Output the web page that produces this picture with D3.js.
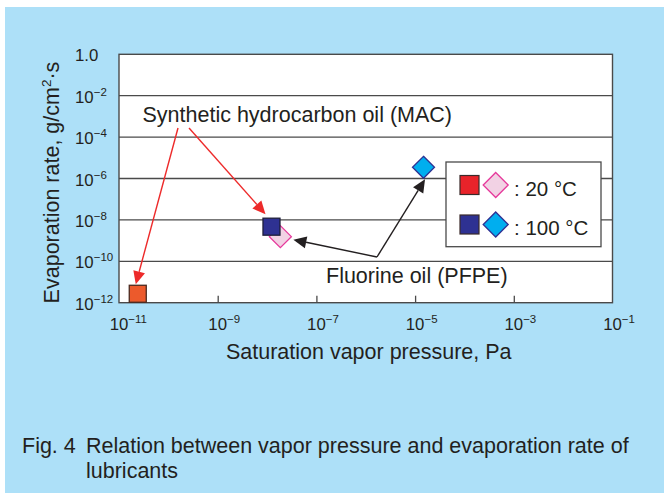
<!DOCTYPE html>
<html>
<head>
<meta charset="utf-8">
<script src="https://cdn.jsdelivr.net/npm/d3@7/dist/d3.min.js"></script>
<style>
  html, body { margin: 0; padding: 0; background: #fff; }
  svg { display: block; }
  text { font-family: "Liberation Sans", Arial, Helvetica, sans-serif; fill: #231f20; }
</style>
</head>
<body>
<svg id="chart" width="664" height="493"></svg>
<script>
// Lubricant evaporation data: saturation vapor pressure (Pa) vs evaporation rate (g/cm²·s)
const temperatures = ["20 °C", "100 °C"];
const macPressure = [2.4e-11, 1.23e-8];   // synthetic hydrocarbon oil (MAC)
const macRate     = [2.7e-12, 4.7e-9];
const pfpePressure = [1.86e-8, 1.48e-5];  // fluorine oil (PFPE)
const pfpeRate     = [1.55e-9, 3.47e-6];
const xTickExponents = [-11, -9, -7, -5, -3, -1];
const yTickExponents = [0, -2, -4, -6, -8, -10, -12];
const macLabel = "Synthetic hydrocarbon oil (MAC)";
const pfpeLabel = "Fluorine oil (PFPE)";
const xTitle = "Saturation vapor pressure, Pa";
const captionLines = ["Relation between vapor pressure and evaporation rate of", "lubricants"];

const svg = d3.select("#chart");
const ink = "#231f20";
const gridColor = "#4a4a4a";
const bigFont = 21.5;

// background panel
svg.append("rect").attr("x", 5).attr("y", 7).attr("width", 659).attr("height", 486).attr("fill", "#ade0f8");

const x = d3.scaleLog().domain([1e-11, 1e-1]).range([119, 612.5]);
const y = d3.scaleLog().domain([1e-12, 1]).range([302.7, 54.3]);

// plot area
svg.append("rect")
  .attr("x", x.range()[0]).attr("y", y.range()[1])
  .attr("width", x.range()[1] - x.range()[0]).attr("height", y.range()[0] - y.range()[1])
  .attr("fill", "#fff");

// horizontal grid lines
svg.append("g").selectAll("line")
  .data(yTickExponents.filter(e => e !== 0 && e !== -12))
  .join("line")
  .attr("x1", x.range()[0]).attr("x2", x.range()[1])
  .attr("y1", e => y(Math.pow(10, e))).attr("y2", e => y(Math.pow(10, e)))
  .attr("stroke", gridColor).attr("stroke-width", 1.3);

// x axis ticks (inward)
const xAxis = d3.axisTop(x)
  .tickValues(xTickExponents.slice(1, -1).map(e => Math.pow(10, e)))
  .tickSize(7).tickFormat("");
const xg = svg.append("g").attr("transform", `translate(0,${y.range()[0]})`).call(xAxis);
xg.select(".domain").remove();
xg.selectAll("line").attr("stroke", gridColor).attr("stroke-width", 1.3);

// plot frame
svg.append("rect")
  .attr("x", x.range()[0]).attr("y", y.range()[1])
  .attr("width", x.range()[1] - x.range()[0]).attr("height", y.range()[0] - y.range()[1])
  .attr("fill", "none").attr("stroke", gridColor).attr("stroke-width", 1.4);

// x tick labels: "10" centred on the tick, exponent raised to the right
const tickFont = 16.8;
const supFont = 11.5;
const tenHalf = tickFont * 1.112 / 2;
xTickExponents.forEach(e => {
  const t = svg.append("text")
    .attr("x", x(Math.pow(10, e)) - tenHalf).attr("y", 330)
    .attr("font-size", tickFont);
  t.append("tspan").text("10");
  t.append("tspan").attr("font-size", supFont).attr("dy", -7).text("\u2212" + Math.abs(e));
});

// y tick labels
yTickExponents.forEach(e => {
  const t = svg.append("text")
    .attr("x", 75).attr("y", y(Math.pow(10, e)) + 7)
    .attr("font-size", tickFont);
  if (e === 0) {
    t.text("1.0");
  } else {
    t.append("tspan").text("10");
    t.append("tspan").attr("font-size", supFont).attr("dy", -7).text("\u2212" + Math.abs(e));
  }
});

// axis titles
svg.append("text")
  .attr("x", (x.range()[0] + x.range()[1]) / 2 + 3).attr("y", 358.5)
  .attr("text-anchor", "middle").attr("font-size", bigFont)
  .text(xTitle);

const yTitle = svg.append("text")
  .attr("transform", `translate(59,182.5) rotate(-90)`)
  .attr("text-anchor", "middle").attr("font-size", bigFont);
yTitle.append("tspan").text("Evaporation rate, g/cm");
yTitle.append("tspan").attr("font-size", 13.5).attr("dy", -8).text("2");
yTitle.append("tspan").attr("dy", 8).text("\u00b7s");

// arrow helper
function arrow(x1, y1, x2, y2, color) {
  const ang = Math.atan2(y2 - y1, x2 - x1);
  const len = 13, half = 6;
  const bx = x2 - len * Math.cos(ang), by = y2 - len * Math.sin(ang);
  svg.append("line")
    .attr("x1", x1).attr("y1", y1).attr("x2", bx).attr("y2", by)
    .attr("stroke", color).attr("stroke-width", 1.4);
  const px = -Math.sin(ang) * half, py = Math.cos(ang) * half;
  svg.append("path")
    .attr("d", `M${x2},${y2}L${bx + px},${by + py}L${bx - px},${by - py}Z`)
    .attr("fill", color);
}

// markers
const sq = (cx, cy, s, fill, stroke) =>
  svg.append("rect").attr("x", cx - s / 2).attr("y", cy - s / 2).attr("width", s).attr("height", s)
    .attr("fill", fill).attr("stroke", stroke).attr("stroke-width", 1.3);
const diamond = (cx, cy, r, fill, stroke) =>
  svg.append("path").attr("d", `M${cx},${cy - r}L${cx + r},${cy}L${cx},${cy + r}L${cx - r},${cy}Z`)
    .attr("fill", fill).attr("stroke", stroke).attr("stroke-width", 1.3);

const macFill = ["#ec5a2c", "#2e3192"];
const macStroke = ["#4a2a20", "#1e1e3a"];
const pfpeFill = ["#f2d2e4", "#00aeef"];
const pfpeStroke = ["#e6399b", "#2e3192"];

pfpePressure.forEach((p, i) => diamond(x(p), y(pfpeRate[i]), 11, pfpeFill[i], pfpeStroke[i]));
macPressure.forEach((p, i) => sq(x(p), y(macRate[i]), 17, macFill[i], macStroke[i]));

// annotation labels and arrows
svg.append("text").attr("x", 142.5).attr("y", 122.3).attr("font-size", bigFont).text(macLabel);
svg.append("text").attr("x", 326).attr("y", 283.3).attr("font-size", bigFont).text(pfpeLabel);

arrow(178, 128, x(macPressure[0]) - 2, y(macRate[0]) - 9.5, "#ed2a2a");
arrow(189, 128, x(macPressure[1]) - 6, y(macRate[1]) - 12.5, "#ed2a2a");
arrow(377, 257, x(pfpePressure[0]) + 13, y(pfpeRate[0]) + 3, ink);
arrow(377, 257, x(pfpePressure[1]) + 1.5, y(pfpeRate[1]) + 12, ink);

// legend
const lg = svg.append("g");
lg.append("rect").attr("x", 446).attr("y", 162).attr("width", 155).attr("height", 84.7)
  .attr("fill", "#fff").attr("stroke", gridColor).attr("stroke-width", 1.3);
const legendSquare = ["#e8232a", "#2e3192"];
temperatures.forEach((t, i) => {
  const cy = 185 + i * 39.5;
  lg.append("rect").attr("x", 460).attr("y", cy - 9.5).attr("width", 19).attr("height", 19)
    .attr("fill", legendSquare[i]).attr("stroke", "#3a2a2a").attr("stroke-width", 1.2);
  lg.append("path").attr("d", `M495.7,${cy - 12.5}L508.2,${cy}L495.7,${cy + 12.5}L483.2,${cy}Z`)
    .attr("fill", pfpeFill[i]).attr("stroke", pfpeStroke[i]).attr("stroke-width", 1.3);
  lg.append("text").attr("x", 514).attr("y", cy + 10.5).attr("font-size", 20.5).text(": " + t);
});

// caption
svg.append("text").attr("x", 22).attr("y", 453.3).attr("font-size", bigFont).text("Fig. 4");
captionLines.forEach((line, i) => {
  svg.append("text").attr("x", 86).attr("y", 453.3 + i * 24.4).attr("font-size", bigFont).text(line);
});
</script>
</body>
</html>
